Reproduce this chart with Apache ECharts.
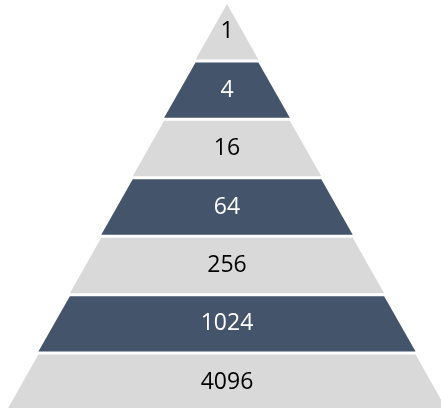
<!DOCTYPE html>
<html>
<head>
<meta charset="utf-8">
<script src="https://cdn.jsdelivr.net/npm/echarts@6/dist/echarts.min.js"></script>
<style>
  html, body { margin: 0; padding: 0; background: #fff; }
  #chart { width: 441px; height: 408px; }
</style>
</head>
<body>
<div id="chart"></div>
<script>
// pyramid levels, top (narrowest) to bottom (widest)
const levelNames = ['1', '4', '16', '64', '256', '1024', '4096']
const levelRank = [1, 2, 3, 4, 5, 6, 7]

const light = '#D9D9D9'
const dark = '#44546A'

const chart = echarts.init(document.getElementById('chart'))

const data = levelNames.map((name, i) => {
  const isDark = i % 2 === 1
  return {
    name,
    value: levelRank[i],
    itemStyle: { color: isDark ? dark : light },
    label: { color: isDark ? '#ffffff' : '#000000' },
  }
})

chart.setOption({
  animation: false,
  backgroundColor: '#ffffff',
  series: [
    {
      type: 'funnel',
      sort: 'ascending',
      left: 7,
      top: 4,
      width: 440,
      height: 406,
      gap: 3,
      min: 0,
      max: 7,
      minSize: '0%',
      maxSize: '100%',
      funnelAlign: 'center',
      label: {
        show: true,
        position: 'inside',
        formatter: '{b}',
        fontFamily: 'Open Sans',
        fontSize: 23,
      },
      labelLine: { show: false },
      itemStyle: { borderWidth: 0 },
      emphasis: { disabled: true },
      data,
    },
  ],
})
</script>
</body>
</html>
